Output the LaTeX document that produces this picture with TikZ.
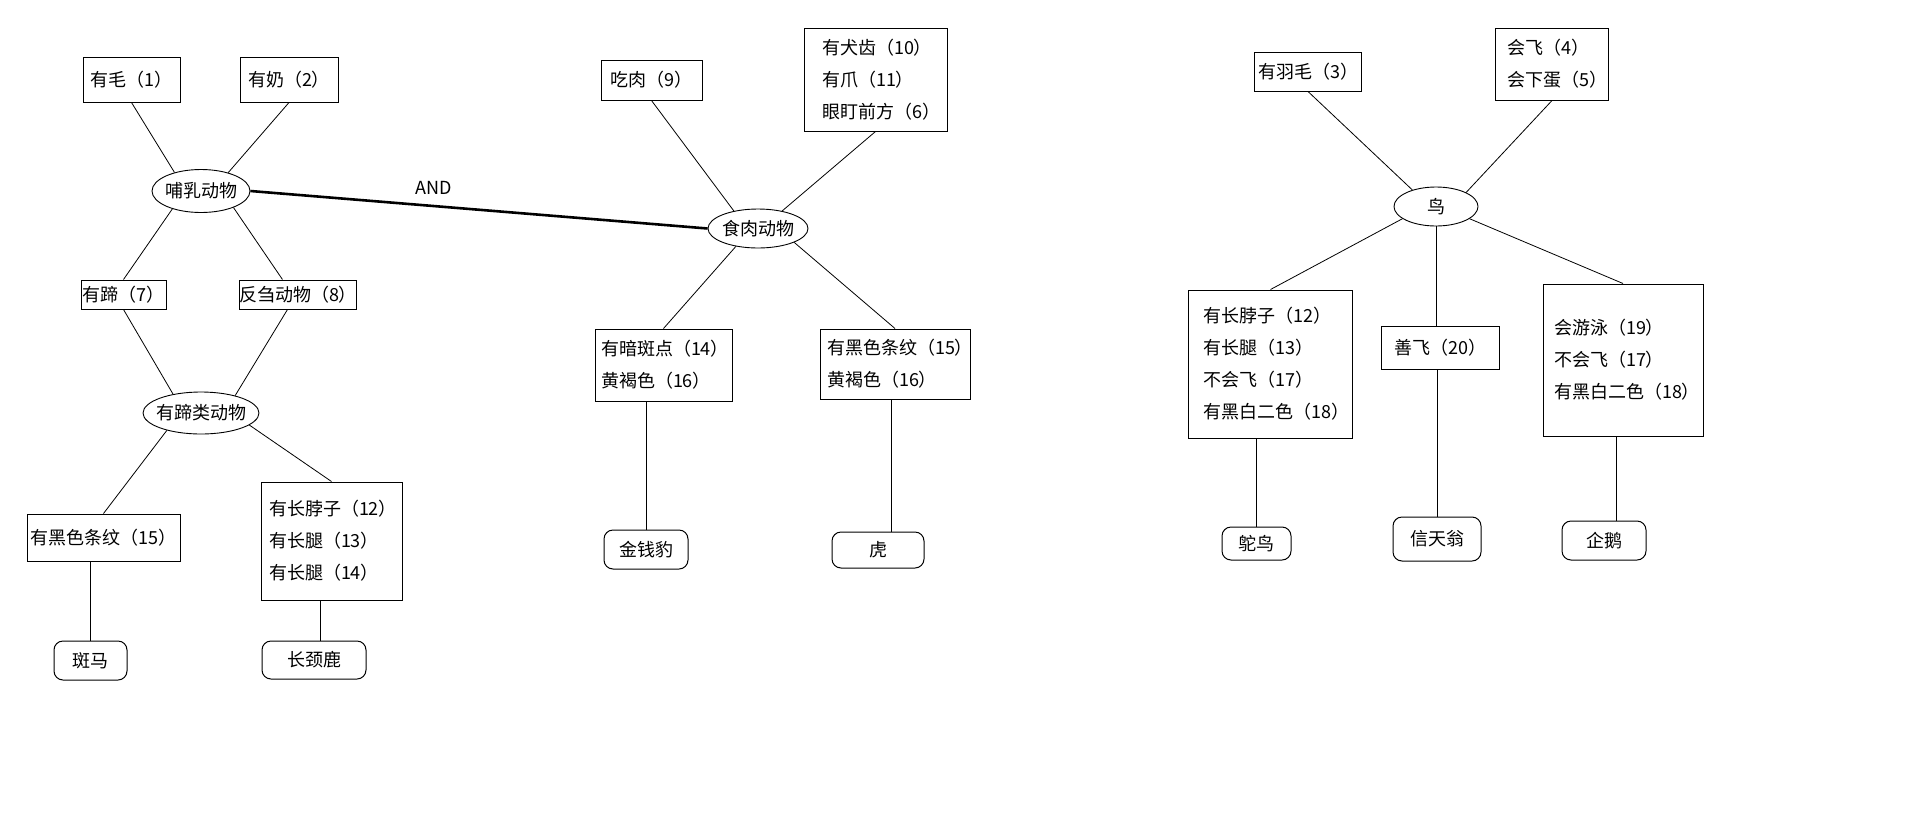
\documentclass[tikz,border=0pt]{standalone}
\usepackage{fontspec}
\newfontfamily\cjk{Noto Sans CJK SC}
\usetikzlibrary{shapes.geometric}

\begin{document}
\begin{tikzpicture}[x=1pt, y=-1pt,
    font=\cjk\fontsize{18}{32}\selectfont,
    every node/.style={inner sep=2pt},
    fact/.style={draw, line width=1pt, align=center, inner xsep=0pt},
    facts/.style={draw, line width=1pt, align=left, inner xsep=#1, inner ysep=0pt},
    class/.style={draw, ellipse, line width=0.9pt, inner xsep=-4pt, inner ysep=0pt},
    animal/.style={draw, rounded corners=9pt, line width=1pt},
    link/.style={line width=0.8pt}]
    \fill[white] (0,0) rectangle (1914,820);
    \useasboundingbox (0,0) rectangle (1914,820);

    % 哺乳动物
    \node[fact, minimum width=97pt, minimum height=45pt] (hair) at (131.5,79.5) {有毛（1）};
    \node[fact, minimum width=98pt, minimum height=45pt] (milk) at (289,79.5) {有奶（2）};
    \node[class, minimum width=98pt, minimum height=43pt] (mammal) at (201,191) {哺乳动物};
    \node[fact, minimum width=85pt, minimum height=29pt] (hoof) at (123.5,294.5) {有蹄（7）};
    \node[fact, minimum width=116pt, minimum height=29pt] (rumin) at (298,294.5) {反刍动物（8）};
    \node[class, minimum width=112pt, minimum height=42pt] (hoofed) at (201,413) {有蹄类动物};
    \node[fact, minimum width=153pt, minimum height=47pt] (stripe) at (103.5,537.5) {有黑色条纹（15）};
    \node[facts=8pt, text width=125pt, minimum height=118pt] (neck) at (331.5,541) {有长脖子（12）\\有长腿（13）\\有长腿（14）};
    \node[animal, minimum width=73pt, minimum height=39pt] (zebra) at (90.5,660.5) {斑马};
    \node[animal, minimum width=104pt, minimum height=38pt] (giraffe) at (314,660) {长颈鹿};

    \draw[link] (hair.south) -- (mammal.145);
    \draw[link] (milk.south) -- (mammal.34);
    \draw[link] (mammal.212) -- (hoof.north);
    \draw[link] (mammal.333) -- (rumin.136);
    \draw[link] (hoof.south) -- (hoofed.146);
    \draw[link] (rumin.235) -- (hoofed.27);
    \draw[link] (hoofed.207) -- (stripe.north);
    \draw[link] (hoofed.346) -- (neck.north);
    \draw[link] (zebra.north) -- (zebra.north |- stripe.south);
    \draw[link] ([xshift=6pt]giraffe.north) -- ([xshift=6pt]giraffe.north |- neck.south);

    % 食肉动物
    \node[fact, minimum width=101pt, minimum height=40pt] (meat) at (651.5,80) {吃肉（9）};
    \node[facts=18pt, text width=107pt, minimum height=103pt] (teeth) at (875.5,79.5) {有犬齿（10）\\有爪（11）\\眼盯前方（6）};
    \node[class, minimum width=100pt, minimum height=39pt] (carniv) at (758,228.5) {食肉动物};
    \node[facts=6pt, text width=125pt, minimum height=72pt] (spot) at (663.5,365) {有暗斑点（14）\\黄褐色（16）};
    \node[facts=7pt, text width=136pt, minimum height=70pt] (tstripe) at (895,364) {有黑色条纹（15）\\黄褐色（16）};
    \node[animal, minimum width=84pt, minimum height=39pt] (leopard) at (646,549.5) {金钱豹};
    \node[animal, minimum width=92pt, minimum height=36pt] (tiger) at (878,550) {虎};

    \draw[link] (meat.south) -- (carniv.144);
    \draw[link] (teeth.south) -- (carniv.36);
    \draw[link] (carniv.219) -- (spot.north);
    \draw[link] (carniv.339) -- (tstripe.north);
    \draw[link] (leopard.north) -- (leopard.north |- spot.south);
    \draw[link] ([xshift=13pt]tiger.north) -- ([xshift=13pt]tiger.north |- tstripe.south);

    \draw[line width=2.6pt] (mammal.east) -- node[pos=0.4, above=8pt] (and) {AND} (carniv.west);

    % 鸟
    \node[fact, minimum width=107pt, minimum height=39pt] (feather) at (1308,71.5) {有羽毛（3）};
    \node[facts=12pt, text width=89pt, minimum height=72pt] (fly) at (1552,64) {会飞（4）\\会下蛋（5）};
    \node[class, minimum width=84pt, minimum height=39pt] (bird) at (1436,206.5) {鸟};
    \node[facts=15pt, text width=134pt, minimum height=148pt] (longneck) at (1270.5,364) {有长脖子（12）\\有长腿（13）\\不会飞（17）\\有黑白二色（18）};
    \node[fact, minimum width=118pt, minimum height=43pt] (goodfly) at (1440.5,347.5) {善飞（20）};
    \node[facts=11pt, text width=138pt, minimum height=152pt] (swim) at (1623,360) {会游泳（19）\\不会飞（17）\\有黑白二色（18）};
    \node[animal, minimum width=69pt, minimum height=33pt] (ostrich) at (1256.5,543.5) {鸵鸟};
    \node[animal, minimum width=88pt, minimum height=44pt] (albatross) at (1437,539) {信天翁};
    \node[animal, minimum width=84pt, minimum height=39pt] (penguin) at (1604,540.5) {企鹅};

    \draw[link] (feather.south) -- (bird.145);
    \draw[link] (fly.south) -- (bird.25);
    \draw[link] (bird.200) -- (longneck.north);
    \draw[link] (bird.south) -- (bird.south |- goodfly.north);
    \draw[link] (bird.340) -- (swim.north);
    \draw[link] (ostrich.north) -- (ostrich.north |- longneck.south);
    \draw[link] (albatross.north) -- (albatross.north |- goodfly.south);
    \draw[link] ([xshift=12pt]penguin.north) -- ([xshift=12pt]penguin.north |- swim.south);
\end{tikzpicture}
\end{document}
